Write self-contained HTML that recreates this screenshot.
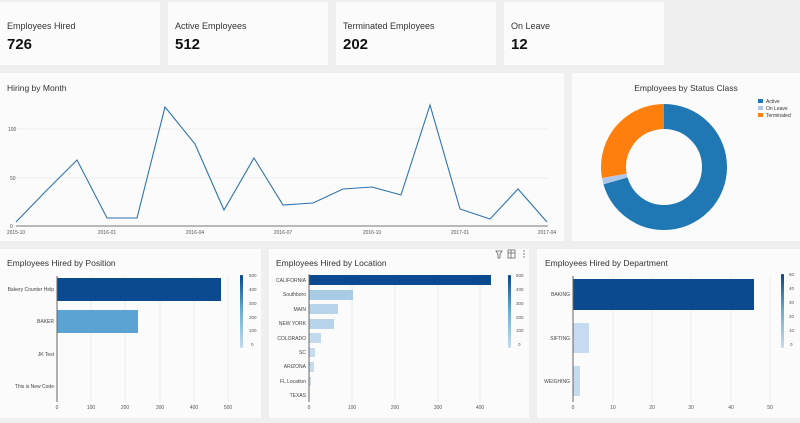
<!DOCTYPE html>
<html><head><meta charset="utf-8"><style>
body{margin:0;width:800px;height:423px;background:#efefef;font-family:"Liberation Sans",sans-serif;overflow:hidden;position:relative}
.c{position:absolute;background:#fbfbfb}
.k .t{position:absolute;left:7px;top:19px;font-size:9px;color:#333}
.k .v{position:absolute;left:7px;top:34px;font-size:15px;font-weight:bold;color:#111}
svg{position:absolute;left:0;top:0}
</style></head><body>
<div class="c k" style="left:0;top:2px;width:160px;height:63px"><div class="t">Employees Hired</div><div class="v">726</div></div>
<div class="c k" style="left:168px;top:2px;width:160px;height:63px"><div class="t">Active Employees</div><div class="v">512</div></div>
<div class="c k" style="left:336px;top:2px;width:160px;height:63px"><div class="t">Terminated Employees</div><div class="v">202</div></div>
<div class="c k" style="left:504px;top:2px;width:160px;height:63px"><div class="t">On Leave</div><div class="v">12</div></div>
<div class="c" style="left:0;top:73px;width:564px;height:168px"></div>
<div class="c" style="left:572px;top:73px;width:228px;height:168px"></div>
<div class="c" style="left:0;top:249px;width:261px;height:169px"></div>
<div class="c" style="left:269px;top:249px;width:260px;height:169px"></div>
<div class="c" style="left:537px;top:249px;width:263px;height:169px"></div>
<svg width="800" height="423" font-family="Liberation Sans, sans-serif">
<defs><linearGradient id="g" x1="0" y1="1" x2="0" y2="0"><stop offset="0" stop-color="#c6dbef"/><stop offset="0.5" stop-color="#6aaed6"/><stop offset="1" stop-color="#08468f"/></linearGradient></defs>
<!-- line chart -->
<text x="7" y="91" font-size="8.5" fill="#333">Hiring by Month</text>
<g stroke="#eee" stroke-width="1"><line x1="16" y1="129" x2="548" y2="129"/><line x1="16" y1="178" x2="548" y2="178"/></g>
<line x1="16" y1="226" x2="548" y2="226" stroke="#777" stroke-width="1"/>
<g font-size="5" fill="#555"><text x="8" y="131">100</text><text x="10" y="180">50</text><text x="10" y="228">0</text>
<g text-anchor="middle"><text x="16" y="234">2015-10</text><text x="107" y="234">2016-01</text><text x="195" y="234">2016-04</text><text x="283" y="234">2016-07</text><text x="372" y="234">2016-10</text><text x="460" y="234">2017-01</text><text x="547" y="234">2017-04</text></g></g>
<polyline fill="none" stroke="#2f73ad" stroke-width="1.1" points="16,222 46,191 77,160 107,218 137,218 165,107 195,144 224,210 254,158 283,205 313,203 343,189 372,187 401,195 430,105 460,209 490,219 518,189 547,222"/>
<!-- donut -->
<text x="686" y="91" font-size="8.5" fill="#333" text-anchor="middle">Employees by Status Class</text>
<g transform="translate(664,167)" fill="none" stroke-width="25">
<circle r="50.5" stroke="#1f77b4" stroke-dasharray="223.5 317.3" transform="rotate(-90)"/>
<circle r="50.5" stroke="#aec7e8" stroke-dasharray="5.2 317.3" transform="rotate(164)"/>
<circle r="50.5" stroke="#ff7f0e" stroke-dasharray="88 317.3" transform="rotate(170)"/>
</g>
<g font-size="5" fill="#333"><rect x="758" y="99" width="5" height="4" fill="#1f77b4"/><text x="766" y="103">Active</text>
<rect x="758" y="106" width="5" height="4" fill="#aec7e8"/><text x="766" y="110">On Leave</text>
<rect x="758" y="113" width="5" height="4" fill="#ff7f0e"/><text x="766" y="117">Terminated</text></g>
<!-- position -->
<text x="7" y="266" font-size="8.5" fill="#333">Employees Hired by Position</text>
<g stroke="#eee"><line x1="91" y1="276" x2="91" y2="402"/><line x1="125" y1="276" x2="125" y2="402"/><line x1="160" y1="276" x2="160" y2="402"/><line x1="194" y1="276" x2="194" y2="402"/><line x1="228" y1="276" x2="228" y2="402"/></g>
<rect x="57" y="278" width="164" height="23" fill="#0b4a8f"/><rect x="57" y="310" width="81" height="23" fill="#5ba3d3"/>
<line x1="57" y1="276" x2="57" y2="402" stroke="#666"/>
<g font-size="5" fill="#444" text-anchor="end"><text x="54" y="291">Bakery Counter Help</text><text x="54" y="323">BAKER</text><text x="54" y="356">JK Test</text><text x="54" y="388">This is New Code</text></g>
<g font-size="5" fill="#555" text-anchor="middle"><text x="57" y="409">0</text><text x="91" y="409">100</text><text x="125" y="409">200</text><text x="160" y="409">300</text><text x="194" y="409">400</text><text x="228" y="409">500</text></g>
<rect x="240" y="275" width="3" height="73" fill="url(#g)" rx="1"/>
<g font-size="4.5" fill="#555"><text x="249" y="277">500</text><text x="249" y="291">400</text><text x="249" y="305">300</text><text x="249" y="319">200</text><text x="249" y="332">100</text><text x="251" y="346">0</text></g>
<!-- location -->
<text x="276" y="266" font-size="8.5" fill="#333">Employees Hired by Location</text>
<g stroke="#eee"><line x1="352" y1="274" x2="352" y2="402"/><line x1="395" y1="274" x2="395" y2="402"/><line x1="438" y1="274" x2="438" y2="402"/><line x1="480" y1="274" x2="480" y2="402"/></g>
<rect x="309" y="275" width="182" height="10" fill="#0b4a8f"/>
<g fill="#a9cce6"><rect x="309" y="290" width="44" height="10"/><rect x="309" y="304" width="29" height="10" fill="#b7d4ea"/><rect x="309" y="319" width="25" height="10" fill="#b7d4ea"/><rect x="309" y="333" width="12" height="10" fill="#c3daee"/><rect x="309" y="348" width="6" height="9" fill="#c6dbef"/><rect x="309" y="362" width="5" height="10" fill="#c6dbef"/><rect x="309" y="377" width="2" height="9" fill="#c6dbef"/></g>
<line x1="309" y1="274" x2="309" y2="402" stroke="#666"/>
<g font-size="5" fill="#444" text-anchor="end"><text x="306" y="282">CALIFORNIA</text><text x="306" y="296">Southboro</text><text x="306" y="311">MAIN</text><text x="306" y="325">NEW YORK</text><text x="306" y="340">COLORADO</text><text x="306" y="354">SC</text><text x="306" y="368">ARIZONA</text><text x="306" y="383">FL Location</text><text x="306" y="397">TEXAS</text></g>
<g font-size="5" fill="#555" text-anchor="middle"><text x="309" y="409">0</text><text x="352" y="409">100</text><text x="395" y="409">200</text><text x="438" y="409">300</text><text x="480" y="409">400</text></g>
<rect x="508" y="275" width="3" height="73" fill="url(#g)" rx="1"/>
<g font-size="4.5" fill="#555"><text x="516" y="277">500</text><text x="516" y="291">400</text><text x="516" y="305">300</text><text x="516" y="319">200</text><text x="516" y="332">100</text><text x="518" y="346">0</text></g>
<g fill="none" stroke="#666" stroke-width="0.8"><path d="M496 251 L502 251 L500 254 L500 258 L498 258 L498 254 Z"/><rect x="508" y="250" width="7" height="8"/><line x1="508" y1="253" x2="515" y2="253"/><line x1="511" y1="250" x2="511" y2="258"/></g>
<g fill="#666"><circle cx="524" cy="251" r="0.7"/><circle cx="524" cy="254" r="0.7"/><circle cx="524" cy="257" r="0.7"/></g>
<!-- department -->
<text x="545" y="266" font-size="8.5" fill="#333">Employees Hired by Department</text>
<g stroke="#eee"><line x1="613" y1="276" x2="613" y2="402"/><line x1="652" y1="276" x2="652" y2="402"/><line x1="691" y1="276" x2="691" y2="402"/><line x1="731" y1="276" x2="731" y2="402"/><line x1="770" y1="276" x2="770" y2="402"/></g>
<rect x="573" y="279" width="181" height="31" fill="#0b4a8f"/><rect x="573" y="323" width="16" height="30" fill="#c6dbef"/><rect x="573" y="366" width="7" height="30" fill="#c6dbef"/>
<line x1="573" y1="276" x2="573" y2="402" stroke="#666"/>
<g font-size="5" fill="#444" text-anchor="end"><text x="570" y="296">BAKING</text><text x="570" y="340">SIFTING</text><text x="570" y="383">WEIGHING</text></g>
<g font-size="5" fill="#555" text-anchor="middle"><text x="573" y="409">0</text><text x="613" y="409">10</text><text x="652" y="409">20</text><text x="691" y="409">30</text><text x="731" y="409">40</text><text x="770" y="409">50</text></g>
<rect x="781" y="274" width="3" height="74" fill="url(#g)" rx="1"/>
<g font-size="4.5" fill="#555"><text x="789" y="276">50</text><text x="789" y="290">40</text><text x="789" y="304">30</text><text x="789" y="318">20</text><text x="789" y="332">10</text><text x="790" y="346">0</text></g>
</svg>
</body></html>
